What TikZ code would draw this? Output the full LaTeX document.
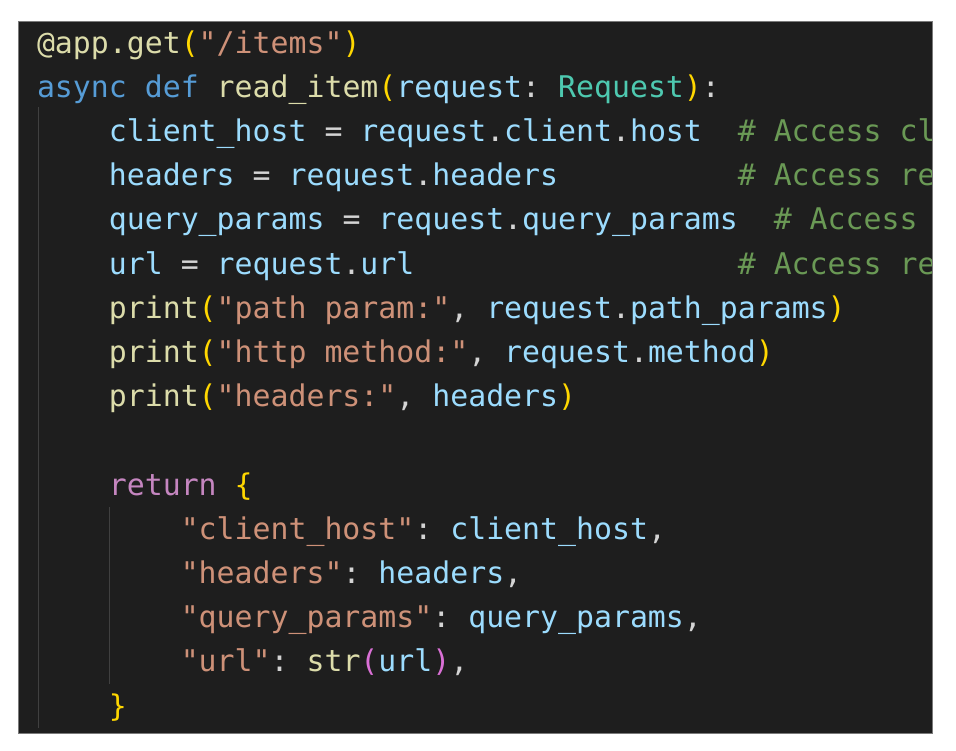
\documentclass[tikz,border=0pt]{standalone}
\usepackage{fontspec}
\setmonofont{DejaVu Sans Mono}
\definecolor{bg}{HTML}{1E1E1E}
\definecolor{frame}{HTML}{7A7A7A}
\definecolor{guide}{HTML}{404040}
\definecolor{txt}{HTML}{D4D4D4}
\definecolor{kwblue}{HTML}{569CD6}
\definecolor{fnyel}{HTML}{DCDCAA}
\definecolor{varblue}{HTML}{9CDCFE}
\definecolor{clsteal}{HTML}{4EC9B0}
\definecolor{strorg}{HTML}{CE9178}
\definecolor{comgrn}{HTML}{6A9955}
\definecolor{ctlpur}{HTML}{C586C0}
\definecolor{brgold}{HTML}{FFD700}
\definecolor{brpur}{HTML}{DA70D6}
\newcommand\cKw[1]{\textcolor{kwblue}{#1}}
\newcommand\cFn[1]{\textcolor{fnyel}{#1}}
\newcommand\cVar[1]{\textcolor{varblue}{#1}}
\newcommand\cCls[1]{\textcolor{clsteal}{#1}}
\newcommand\cStr[1]{\textcolor{strorg}{#1}}
\newcommand\cCom[1]{\textcolor{comgrn}{#1}}
\newcommand\cCtl[1]{\textcolor{ctlpur}{#1}}
\newcommand\cBa[1]{\textcolor{brgold}{#1}}
\newcommand\cBb[1]{\textcolor{brpur}{#1}}
\begin{document}
\begin{tikzpicture}[x=1pt,y=1pt,
  codeline/.style={anchor=base west, inner sep=0pt, outer sep=0pt, text=txt,
    font=\ttfamily\fontsize{29.85}{30}\selectfont},
  guideline/.style={draw=guide, line width=1.5pt}]
\useasboundingbox (0,0) rectangle (956,-750);
\fill[bg] (18,-21) rectangle (932,-733);
% indent guides
\draw[guideline] (38.5,-107) -- (38.5,-728);
\draw[guideline] (109.5,-507) -- (109.5,-684);
\begin{scope}
\clip (18,-21) rectangle (931,-733);
\node[codeline] (l1) at (37,-53) {\cFn{@app.get}\cBa{(}\cStr{"/items"}\cBa{)}};
\node[codeline] (l2) at (37,-97.2) {\cKw{async} \cKw{def} \cFn{read\_item}\cBa{(}\cVar{request}: \cCls{Request}\cBa{)}:};
\node[codeline] (l3) at ({37+4*17.97},-141.4) {\cVar{client\_host} = \cVar{request}.\cVar{client}.\cVar{host}};
\node[codeline] (c3) at ({37+39*17.97},-141.4) {\cCom{\# Access cl}};
\node[codeline] (l4) at ({37+4*17.97},-185.6) {\cVar{headers} = \cVar{request}.\cVar{headers}};
\node[codeline] (c4) at ({37+39*17.97},-185.6) {\cCom{\# Access re}};
\node[codeline] (l5) at ({37+4*17.97},-229.8) {\cVar{query\_params} = \cVar{request}.\cVar{query\_params}};
\node[codeline] (c5) at ({37+41*17.97},-229.8) {\cCom{\# Access}};
\node[codeline] (l6) at ({37+4*17.97},-274) {\cVar{url} = \cVar{request}.\cVar{url}};
\node[codeline] (c6) at ({37+39*17.97},-274) {\cCom{\# Access re}};
\node[codeline] (l7) at ({37+4*17.97},-318.2) {\cFn{print}\cBa{(}\cStr{"path param:"}, \cVar{request}.\cVar{path\_params}\cBa{)}};
\node[codeline] (l8) at ({37+4*17.97},-362.4) {\cFn{print}\cBa{(}\cStr{"http method:"}, \cVar{request}.\cVar{method}\cBa{)}};
\node[codeline] (l9) at ({37+4*17.97},-406.6) {\cFn{print}\cBa{(}\cStr{"headers:"}, \cVar{headers}\cBa{)}};
\node[codeline] (l11) at ({37+4*17.97},-495) {\cCtl{return} \cBa{\{}};
\node[codeline] (l12) at ({37+8*17.97},-539.2) {\cStr{"client\_host"}: \cVar{client\_host},};
\node[codeline] (l13) at ({37+8*17.97},-583.4) {\cStr{"headers"}: \cVar{headers},};
\node[codeline] (l14) at ({37+8*17.97},-627.6) {\cStr{"query\_params"}: \cVar{query\_params},};
\node[codeline] (l15) at ({37+8*17.97},-671.8) {\cStr{"url"}: \cFn{str}\cBb{(}\cVar{url}\cBb{)},};
\node[codeline] (l16) at ({37+4*17.97},-716) {\cBa{\}}};
\end{scope}
\draw[frame, line width=1pt] (18,-21) rectangle (932,-733);
\end{tikzpicture}
\end{document}
